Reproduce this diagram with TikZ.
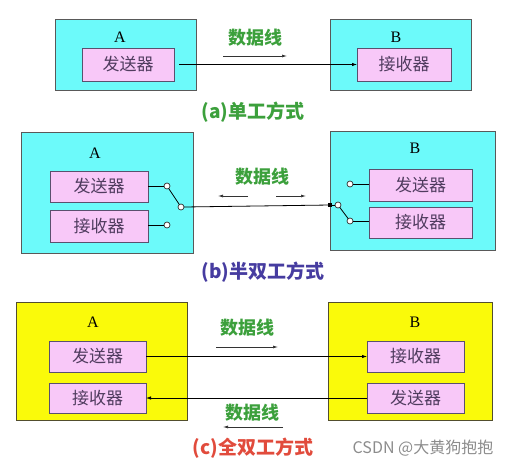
\documentclass[tikz,border=0pt]{standalone}
\usepackage{fontspec}
\setmainfont{Liberation Serif}
\newfontfamily\cjk{Noto Sans CJK SC}
\usetikzlibrary{arrows.meta}

\definecolor{hostcyan}{RGB}{108,250,250}
\definecolor{hostyellow}{RGB}{250,250,10}
\definecolor{unitpink}{RGB}{248,200,248}
\definecolor{unitline}{RGB}{90,80,110}
\definecolor{unittext}{RGB}{80,60,95}
\definecolor{linegreen}{RGB}{60,160,60}
\definecolor{capblue}{RGB}{70,60,160}
\definecolor{capred}{RGB}{225,75,60}

\begin{document}
\begin{tikzpicture} [x=1pt, y=-1pt]
    \tikzstyle{every node}=[inner sep=0pt, outer sep=0pt]
    \tikzstyle{hostA}=[draw=black!65, line width=0.9pt, fill=hostcyan]
    \tikzstyle{hostY}=[draw=black!55!olive, line width=0.9pt, fill=hostyellow]
    \tikzstyle{unit}=[draw=unitline, line width=0.9pt, fill=unitpink,
                      text=unittext, font=\cjk\fontsize{17}{17}\selectfont]
    \tikzstyle{tag}=[font=\fontsize{16}{16}\selectfont]
    \tikzstyle{wire}=[line width=0.8pt, -{Latex[length=5pt,width=3.5pt]}]
    \tikzstyle{hint}=[line width=0.7pt, black!80, -{Latex[length=5pt,width=3pt]}]
    \tikzstyle{wirelbl}=[text=linegreen, font=\cjk\bfseries\fontsize{18}{18}\selectfont]
    \tikzstyle{contact}=[circle, draw=black!80, fill=white, line width=0.7pt, minimum size=6pt]
    \tikzstyle{caption}=[font=\cjk\bfseries\fontsize{19}{19}\selectfont]

    \useasboundingbox (0,0) rectangle (528,472);

    % (a) simplex
    \node[hostA, minimum width=141pt, minimum height=71pt] (hA1) at (125.5,54.5) {};
    \node[hostA, minimum width=141pt, minimum height=71pt] (hB1) at (400.5,54.5) {};
    \node[tag] (tA1) at (120,37) {A};
    \node[tag] (tB1) at (396,37) {B};
    \node[unit, minimum width=92pt, minimum height=33pt] (snd1) at (128,64.5) {发送器};
    \node[unit, minimum width=94pt, minimum height=33pt] (rcv1) at (404,64.5) {接收器};
    \node[wirelbl] (lbl1) at (255,38) {数据线};
    \coordinate (h1s) at (223,56);
    \coordinate (h1e) at (287,56);
    \draw[hint] (h1s) -- (h1e);
    \draw[wire] ([xshift=5pt]snd1.east) -- (rcv1.west);
    \node[caption, text=linegreen] (cap1) at (253,112) {(a)单工方式};

    % (b) half duplex
    \node[hostA, minimum width=172pt, minimum height=121pt] (hA2) at (107,192.5) {};
    \node[hostA, minimum width=165pt, minimum height=119pt] (hB2) at (412.5,190.5) {};
    \node[tag] (tA2) at (95,153) {A};
    \node[tag] (tB2) at (415,148) {B};
    \node[unit, minimum width=98pt, minimum height=31pt] (snd2a) at (99,186.5) {发送器};
    \node[unit, minimum width=98pt, minimum height=32pt] (rcv2a) at (99,226) {接收器};
    \node[unit, minimum width=103pt, minimum height=32pt] (snd2b) at (420.5,185) {发送器};
    \node[unit, minimum width=103pt, minimum height=31pt] (rcv2b) at (420.5,222.5) {接收器};
    \node[contact] (cAs) at (167,186) {};
    \node[contact] (cAr) at (167,225) {};
    \node[contact] (cAp) at (181,207) {};
    \node[contact] (cBs) at (350,184) {};
    \node[contact] (cBr) at (350,221) {};
    \node[contact] (cBp) at (338,205) {};
    \node[fill=black, minimum size=4pt] (jB) at (330,205) {};
    \draw[line width=0.8pt] (snd2a.east |- cAs) -- (cAs);
    \draw[line width=0.8pt] (rcv2a.east |- cAr) -- (cAr);
    \draw[line width=0.8pt] (cAp) -- (cAs);
    \draw[line width=0.8pt] (cBs) -- (snd2b.west |- cBs);
    \draw[line width=0.8pt] (cBr) -- (rcv2b.west |- cBr);
    \draw[line width=0.8pt] (cBp) -- (cBr);
    \draw[line width=0.8pt] (cAp.east) -- (jB);
    \draw[line width=0.8pt] (jB) -- (cBp);
    \node[wirelbl] (lbl2) at (262,177) {数据线};
    \coordinate (h2a) at (248,196);
    \coordinate (h2b) at (218,196);
    \coordinate (h2c) at (276,196);
    \coordinate (h2d) at (306,196);
    \draw[hint] (h2a) -- (h2b);
    \draw[hint] (h2c) -- (h2d);
    \node[caption, text=capblue] (cap2) at (263,272) {(b)半双工方式};

    % (c) full duplex
    \node[hostY, minimum width=171pt, minimum height=118pt] (hA3) at (101.5,361) {};
    \node[hostY, minimum width=164pt, minimum height=118pt] (hB3) at (410,361) {};
    \node[tag] (tA3) at (93,322) {A};
    \node[tag] (tB3) at (415,322) {B};
    \node[unit, minimum width=97pt, minimum height=31pt] (snd3a) at (97.5,356.5) {发送器};
    \node[unit, minimum width=97pt, minimum height=30pt] (rcv3a) at (97.5,398) {接收器};
    \node[unit, minimum width=97pt, minimum height=31pt] (rcv3b) at (415.5,356.5) {接收器};
    \node[unit, minimum width=97pt, minimum height=30pt] (snd3b) at (415.5,398) {发送器};
    \draw[wire] (snd3a.east) -- (rcv3b.west);
    \draw[wire] (snd3b.west) -- (rcv3a.east);
    \node[wirelbl] (lbl3a) at (247,328) {数据线};
    \node[wirelbl] (lbl3b) at (252,413) {数据线};
    \coordinate (h3a) at (216,347);
    \coordinate (h3b) at (278,347);
    \coordinate (h3c) at (283,427);
    \coordinate (h3d) at (223,427);
    \draw[hint] (h3a) -- (h3b);
    \draw[hint] (h3c) -- (h3d);
    \node[caption, text=capred] (cap3) at (253,448) {(c)全双工方式};
    \node[text=black!45, font=\cjk\fontsize{16}{16}\selectfont] (mark) at (423,448) {CSDN @大黄狗抱抱};
\end{tikzpicture}
\end{document}
